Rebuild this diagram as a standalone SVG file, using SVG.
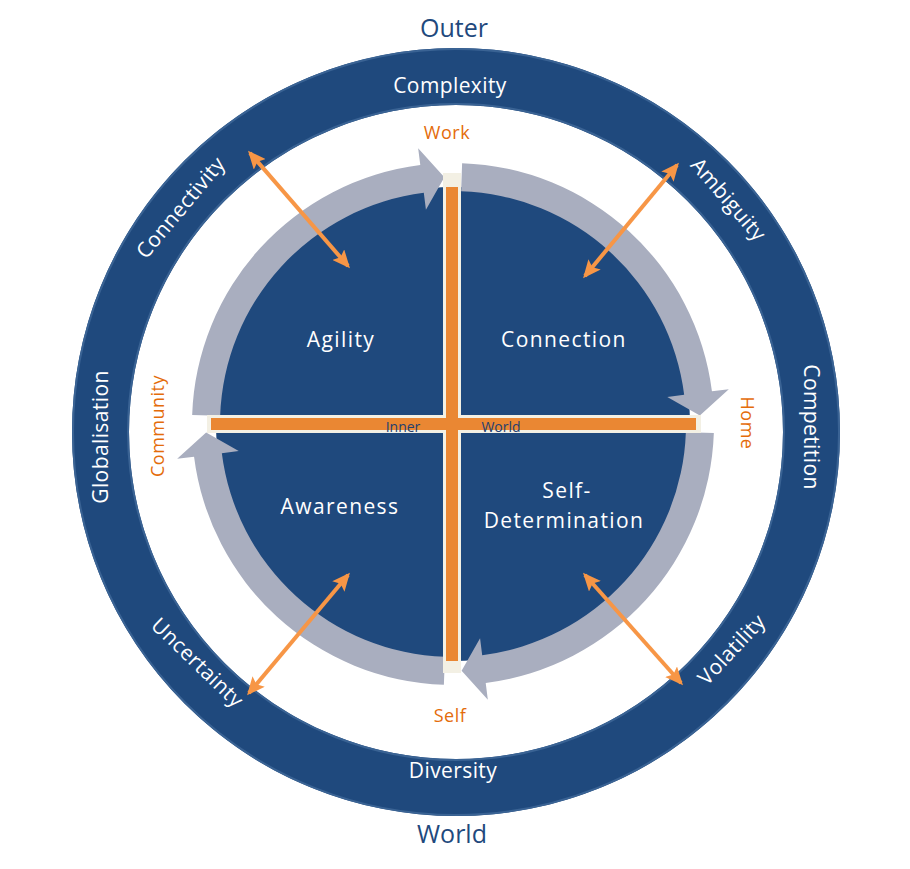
<svg xmlns="http://www.w3.org/2000/svg" xmlns:xlink="http://www.w3.org/1999/xlink" width="910" height="869" viewBox="0 0 910 869">
<defs>
<style>
.lbl{font-family:"Open Sans","Liberation Sans",sans-serif;text-anchor:middle;dominant-baseline:central}
.big{font-size:25px;fill:#1f497d}
.ring{font-size:21px;fill:#ffffff;letter-spacing:0.4px}
.quad{font-size:21px;fill:#ffffff;letter-spacing:1.4px}
.org{font-size:18px;fill:#e46c0a;letter-spacing:0.5px}
.sm{font-size:14px;fill:#243f70}
.oarrow{stroke:#f79646;stroke-width:4;fill:none;marker-start:url(#ah);marker-end:url(#ah)}
.grey{fill:#a9aebf}
</style>
<marker id="ah" viewBox="0 0 18 16" refX="15" refY="8" markerWidth="18" markerHeight="16" markerUnits="userSpaceOnUse" orient="auto-start-reverse">
<path d="M0,0 L18,8 L0,16 L3.5,8 Z" fill="#f79646"/>
</marker>
<path id="garc" d="M192.16,414.89 A261,261 0 0 1 420.29,165.06 L418.16,148.19 L444.38,177.15 L425.93,209.70 L423.80,192.84 A233,233 0 0 0 220.14,415.87 Z"/>
</defs>
<rect width="910" height="869" fill="#ffffff"/>

<g id="outer-ring">
<path d="M72,432 A384,384 0 1 0 840,432 A384,384 0 1 0 72,432 Z M129,432 A327,327 0 1 1 783,432 A327,327 0 1 1 129,432 Z" fill="#1f497d" fill-rule="evenodd"/>
<circle cx="456" cy="432" r="383" fill="none" stroke="#3a6394" stroke-width="2"/>
<circle cx="456" cy="432" r="328" fill="none" stroke="#3a6394" stroke-width="2"/>
<text class="lbl ring" x="450" y="85">Complexity</text>
<text class="lbl ring" x="453" y="770">Diversity</text>
<text class="lbl ring" transform="translate(100,437) rotate(-90)">Globalisation</text>
<text class="lbl ring" transform="translate(812,427) rotate(90)">Competition</text>
<text class="lbl ring" transform="translate(180,207) rotate(-50)">Connectivity</text>
<text class="lbl ring" transform="translate(729,199) rotate(49)">Ambiguity</text>
<text class="lbl ring" transform="translate(198,662) rotate(44)">Uncertainty</text>
<text class="lbl ring" transform="translate(731,649) rotate(-47)">Volatility</text>
</g>

<g id="inner-circle">
<circle cx="453" cy="424" r="237" fill="#1f497d"/>
</g>

<g id="cycle-arrows">
<use xlink:href="#garc" class="grey"/>
<use xlink:href="#garc" class="grey" transform="rotate(90 453 424)"/>
<use xlink:href="#garc" class="grey" transform="rotate(180 453 424)"/>
<use xlink:href="#garc" class="grey" transform="rotate(270 453 424)"/>
</g>

<g id="cross">
<rect x="443" y="173" width="18" height="500" fill="#f3f0e4"/>
<rect x="207" y="415" width="494" height="18" fill="#f3f0e4"/>
<rect x="446" y="187" width="12" height="474" fill="#ea8733"/>
<rect x="211" y="418" width="485" height="12" fill="#ea8733"/>
<text class="lbl sm" x="403" y="426">Inner</text>
<text class="lbl sm" x="501" y="426">World</text>
</g>

<g id="quadrant-agility"><text class="lbl quad" x="341" y="339">Agility</text></g>
<g id="quadrant-connection"><text class="lbl quad" x="564" y="339">Connection</text></g>
<g id="quadrant-awareness"><text class="lbl quad" x="340" y="506">Awareness</text></g>
<g id="quadrant-selfdetermination">
<text class="lbl quad" x="567" y="490">Self-</text>
<text class="lbl quad" x="564" y="520">Determination</text>
</g>

<g id="axis-labels">
<text class="lbl org" x="447" y="132">Work</text>
<text class="lbl org" x="450" y="715">Self</text>
<text class="lbl org" transform="translate(748,423) rotate(90)">Home</text>
<text class="lbl org" transform="translate(157,426) rotate(-90)">Community</text>
</g>

<g id="titles">
<text class="lbl big" x="454" y="27">Outer</text>
<text class="lbl big" x="452" y="833">World</text>
</g>

<g id="connectors">
<line class="oarrow" x1="250" y1="153" x2="348" y2="266"/>
<line class="oarrow" x1="677" y1="165" x2="585" y2="276"/>
<line class="oarrow" x1="348" y1="575" x2="249" y2="693"/>
<line class="oarrow" x1="585" y1="575" x2="681" y2="683"/>
</g>
</svg>
